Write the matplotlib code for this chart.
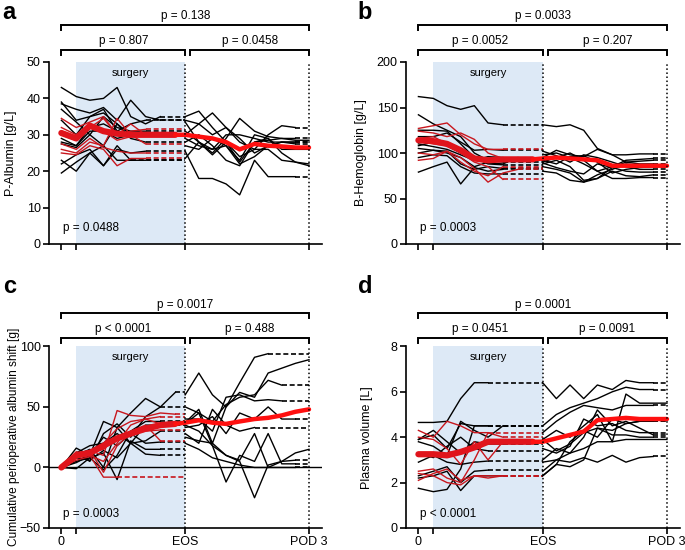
import matplotlib.pyplot as plt

plt.rcParams['font.family'] = ['Liberation Sans', 'DejaVu Sans']

# time axis: 0 = start, 1.2 = start of surgery, 10 = end of surgery (EOS), 20 = POD 3
intra_t = [0, 1.2, 2.3, 3.4, 4.5, 5.6, 6.8, 8.0, 9.2]
post_t = [10, 11.1, 12.2, 13.3, 14.4, 15.6, 16.7, 17.8, 18.9, 20]

# ---- panel a: P-Albumin [g/L]
a_intra_black = [
    [43, 40.5, 39.5, 40, 43, 35, 33, 35],
    [38.5, 37, 36, 37.5, 34, 39.5, 35, 34],
    [39, 34, 35, 37, 31, 33, 34],
    [37, 33.5, 30, 35, 32, 31, 31],
    [28, 27, 31, 31, 29, 30, 30],
    [27.5, 26.5, 30, 27, 33, 29, 28],
    [22, 24.5, 26, 21.5, 26, 25, 25.5],
    [19.5, 22.5, 25, 21.5, 27, 23, 23],
    [23, 20, 25, 27, 23, 23],
    [29, 27, 32, 33, 31, 30, 30],
    [34, 30, 35, 36, 33, 30],
]
a_intra_red = [
    [34.5, 32, 33.5, 35, 30, 31, 31.5],
    [30, 28.5, 32, 34.5, 30, 33, 30],
    [26, 25, 28, 27, 34.5, 30, 27.5],
    [25, 24.5, 27, 26, 21.5, 23.5, 23.5],
    [27.5, 26, 29, 26.5, 25.5, 25, 25],
    [32, 30, 33, 31, 28.5, 29.5, 30],
]
a_post = [
    [35, 36.5, 32, 28, 22.5, 28, 28.5, 29, 29],
    [34, 33, 36, 32, 28, 26, 30, 32.5, 32],
    [33.5, 28, 25, 29, 34.5, 31, 29.5, 29, 28.5, 28.5],
    [30, 33, 30, 32, 29, 25, 27, 28, 28],
    [29, 27, 26, 27, 23, 30, 29, 26, 26, 26],
    [27, 26, 29, 27, 22, 24, 27, 28, 27.5],
    [25.5, 18, 18, 16.5, 13.5, 23, 18.5, 18.5, 18.5],
    [31, 28, 24.5, 28, 24, 26, 26, 23, 22.5, 22],
    [28, 30, 27, 23, 21.5, 28, 29, 25, 22.5, 21.5],
    [23.5, 28, 26, 30, 30, 29, 28, 28, 28],
]
a_mean_intra = [30.5, 29, 32.5, 31, 30.3, 30, 30, 30, 30]
a_mean_post = [30, 29.5, 29, 28, 26, 27.5, 27, 26.8, 26.5, 26.5]

# ---- panel b: B-Hemoglobin [g/L]
b_intra_black = [
    [162, 160, 152, 148, 152, 133, 131],
    [142, 132, 125, 118, 100, 92, 90],
    [125, 125, 124, 110, 95, 88, 87],
    [118, 118, 122, 112, 103, 104, 103],
    [110, 107, 104, 98, 92, 96, 95],
    [105, 103, 100, 95, 85, 90, 92],
    [100, 103, 102, 88, 82, 85, 83],
    [95, 98, 97, 85, 78, 77, 77],
    [79, 85, 90, 66, 84, 80, 82],
    [108, 112, 108, 100, 94, 89, 88, 95],
]
b_intra_red = [
    [127, 130, 133, 120, 110, 104, 104],
    [124, 122, 118, 122, 115, 100, 94],
    [116, 118, 110, 100, 90, 85, 71],
    [100, 98, 102, 95, 83, 68, 78, 82],
    [92, 94, 102, 90, 80, 75, 85],
    [113, 110, 108, 104, 95, 93, 92],
]
b_post = [
    [131, 129, 131, 125, 105, 98, 98, 99, 99],
    [95, 103, 98, 96, 104, 98, 90, 88, 88],
    [90, 95, 100, 92, 80, 85, 92, 93, 94],
    [88, 92, 85, 70, 72, 84, 90, 91, 92],
    [85, 82, 78, 68, 76, 82, 88, 86, 86],
    [92, 88, 96, 97, 90, 78, 82, 84, 85],
    [80, 78, 70, 68, 72, 80, 75, 74, 76],
    [98, 100, 95, 88, 80, 72, 72, 73, 73],
    [102, 97, 90, 98, 95, 90, 85, 82, 82],
    [89, 84, 80, 77, 88, 84, 80, 79, 79],
]
b_mean_intra = [114, 113, 110, 103, 94, 92, 93, 93, 93]
b_mean_post = [94, 95, 94, 93, 92, 86, 86, 86, 86, 86]

# ---- panel c: cumulative perioperative albumin shift [g]
c_intra_black = [
    [0, 16, 10, 38, 33, 45, 57, 50, 62],
    [0, 12, 5, 28, 36, 25, 42, 50],
    [0, 5, 8, -2, 10, 30, 38, 38],
    [0, 10, 15, 0, 33, 20, 35, 35],
    [0, -1, 8, 12, -10, 22, 15, 15],
    [0, 8, 6, 14, 8, 20, 11, 10],
    [0, 12, 18, 20, 28, 20, 22, 30],
    [0, 4, 10, 25, 18, 28, 20, 21],
]
c_intra_red = [
    [0, 12, 14, 10, 47, 43, 42, 45, 44],
    [0, 8, 10, 5, 20, 35, 40, 42],
    [0, 11, 14, -4, 18, 28, 30, 31],
    [0, 13, 10, -8, -8],
    [0, 9, 12, 15, 25, 30, 35, 22],
    [0, 6, 9, 20, 32, 38, 40, 36],
]
c_post = [
    [60, 78, 60, 50, 70, 91, 94],
    [37, 48, 20, 50, 62, 58, 78, 82, 86, 89],
    [50, 45, 38, 52, 58, 60, 72, 68],
    [40, 40, 30, 58, 60, 55, 56, 55],
    [33, 35, 42, 28, 45, 40, 50, 40, 40],
    [28, 20, 48, 35, 30, 33],
    [36, 45, 18, -12, 10, 5, 28, 3, 3],
    [25, 22, 20, 10, 5, -25, 2, 5, 12, 15],
    [20, 15, 8, 5, 2, 0, 0, 5, 6],
    [35, 30, 18, 10, 6, 28, 0, 0, 0],
]
c_mean_intra = [0, 10, 12, 18, 24, 28, 32, 35, 36]
c_mean_post = [37, 39, 37, 36, 38, 40, 41, 43, 46, 48]

# ---- panel d: plasma volume [L]
d_intra_black = [
    [4.65, 4.65, 4.7, 5.7, 6.4, 6.4],
    [3.9, 4.1, 3.5, 4.6, 4.5, 4.5],
    [3.8, 3.6, 3.2, 4.7, 4.3, 4.0, 4.5],
    [3.9, 4.3, 3.8, 3.3, 3.8, 3.7, 3.7],
    [3.3, 3.1, 3.6, 4.0, 3.5, 3.4],
    [2.9, 3.2, 2.9, 2.8, 2.9, 2.95],
    [2.3, 2.5, 2.7, 2.0, 2.5, 2.55],
    [2.2, 2.3, 2.5, 1.65, 2.3, 2.3, 2.3],
    [1.75, 1.6, 1.7, 2.6, 4.5, 4.5],
]
d_intra_red = [
    [4.3, 4.0, 4.7, 4.5, 4.2, 4.2],
    [4.0, 3.9, 3.5, 2.8, 3.8, 3.0, 3.8],
    [2.5, 2.6, 2.2, 2.0, 3.0, 4.2, 4.0],
    [2.4, 2.3, 2.0, 1.9, 2.3, 2.3, 2.3],
    [2.1, 2.4, 2.6, 2.1, 2.3, 2.2, 2.3],
]
d_post = [
    [6.4, 5.7, 6.3, 5.7, 6.3, 6.1, 6.5, 6.4, 6.4],
    [4.5, 5.0, 5.3, 5.5, 5.7, 6.0, 6.2, 6.1, 6.1],
    [4.2, 4.7, 5.1, 5.4, 5.3, 5.2, 5.4, 5.4, 5.4],
    [3.9, 4.3, 4.0, 4.5, 5.0, 3.8, 5.9, 5.5, 5.5, 5.5],
    [3.5, 3.3, 3.6, 4.8, 4.5, 4.6, 4.3, 4.2, 4.2],
    [3.0, 3.5, 3.3, 4.0, 5.2, 4.5, 4.7, 4.4, 4.1],
    [2.3, 2.8, 3.8, 4.3, 4.0, 4.8, 4.6, 4.7, 4.7],
    [2.5, 3.0, 3.3, 3.5, 3.8, 3.8, 3.9, 3.9, 3.9, 3.9],
    [2.9, 3.0, 2.9, 3.1, 2.9, 3.2, 2.9, 3.1, 3.15],
    [2.3, 2.8, 2.7, 3.0, 4.4, 4.3, 4.6, 4.7, 4.7],
    [3.9, 3.4, 3.7, 4.2, 4.4, 4.1, 4.1, 4.0, 4.0],
]
d_mean_intra = [3.25, 3.25, 3.2, 3.35, 3.55, 3.8, 3.8, 3.8, 3.8]
d_mean_post = [3.8, 3.95, 4.1, 4.25, 4.75, 4.8, 4.85, 4.8, 4.8, 4.8]

panels = [
    dict(letter='a', ylabel='P-Albumin [g/L]', ylim=(0, 50), yticks=[0, 10, 20, 30, 40, 50],
         black=a_intra_black, red=a_intra_red, post=a_post,
         mean_i=a_mean_intra, mean_p=a_mean_post,
         p=('p = 0.138', 'p = 0.807', 'p = 0.0458', 'p = 0.0488')),
    dict(letter='b', ylabel='B-Hemoglobin [g/L]', ylim=(0, 200), yticks=[0, 50, 100, 150, 200],
         black=b_intra_black, red=b_intra_red, post=b_post,
         mean_i=b_mean_intra, mean_p=b_mean_post,
         p=('p = 0.0033', 'p = 0.0052', 'p = 0.207', 'p = 0.0003')),
    dict(letter='c', ylabel='Cumulative perioperative albumin shift [g]', ylim=(-50, 100),
         yticks=[-50, 0, 50, 100],
         black=c_intra_black, red=c_intra_red, post=c_post,
         mean_i=c_mean_intra, mean_p=c_mean_post,
         p=('p = 0.0017', 'p < 0.0001', 'p = 0.488', 'p = 0.0003')),
    dict(letter='d', ylabel='Plasma volume [L]', ylim=(0, 8), yticks=[0, 2, 4, 6, 8],
         black=d_intra_black, red=d_intra_red, post=d_post,
         mean_i=d_mean_intra, mean_p=d_mean_post,
         p=('p = 0.0001', 'p = 0.0451', 'p = 0.0091', 'p < 0.0001')),
]

# axes rectangles in pixels (left, bottom, width, height) of a 685x550 figure
rects = [(49, 306, 273, 182), (406, 306, 274, 182), (49, 22, 273, 181.6), (406, 22, 274, 181.6)]
label_x = [-0.117, -0.141, -0.108, -0.119]
label_size = [9, 9, 8.6, 9]
# bracket heights (axes fraction): lower bracket, lower text, upper bracket, upper text
brk = [(1.066, 1.115, 1.203, 1.253), (1.066, 1.115, 1.203, 1.253),
       (1.046, 1.096, 1.184, 1.23), (1.046, 1.096, 1.184, 1.23)]

fig = plt.figure(figsize=(6.85, 5.5), dpi=100)
RED = '#c8161d'
DASH = (0, (3, 1.6))


def bracket(ax, x0, x1, y, ytxt, txt):
    tr = ax.get_xaxis_transform()
    ax.plot([x0, x0, x1, x1], [y - 0.025, y, y, y - 0.025], color='black', lw=1.4,
            transform=tr, clip_on=False, solid_joinstyle='miter')
    ax.text((x0 + x1) / 2, ytxt, txt, transform=tr, ha='center', va='center', fontsize=8.5)


for i, pnl in enumerate(panels):
    l, b, w, h = rects[i]
    ax = fig.add_axes([l / 685, b / 550, w / 685, h / 550])
    ax.set_xlim(-1.0, 21.05)
    ax.set_ylim(*pnl['ylim'])
    ax.axvspan(1.2, 10, color='#dde9f6', lw=0, zorder=0)
    ax.axvline(10, color='black', ls=':', lw=1.1, zorder=5)
    ax.axvline(20, color='black', ls=':', lw=1.1, zorder=5)
    if pnl['ylim'][0] < 0:
        ax.axhline(0, color='black', lw=1.0, zorder=1)

    for vals, col in [(v, 'black') for v in pnl['black']] + [(v, RED) for v in pnl['red']]:
        xs = intra_t[:len(vals)]
        ax.plot(xs, vals, color=col, lw=1.0, zorder=2)
        if xs[-1] < 10:
            ax.plot([xs[-1], 10], [vals[-1], vals[-1]], color=col, lw=1.2, ls=DASH, zorder=2)
    for vals in pnl['post']:
        xs = post_t[:len(vals)]
        ax.plot(xs, vals, color='black', lw=1.0, zorder=2)
        if xs[-1] < 20:
            ax.plot([xs[-1], 20], [vals[-1], vals[-1]], color='black', lw=1.2, ls=DASH, zorder=2)

    ax.plot(intra_t, pnl['mean_i'], color='#e0141c', lw=4.5, zorder=4, solid_capstyle='round')
    ax.plot([intra_t[-1]] + post_t, [pnl['mean_i'][-1]] + pnl['mean_p'], color='#ff1010',
            lw=3.2, zorder=4, solid_capstyle='round')

    ax.text(5.6, 0.94, 'surgery', transform=ax.get_xaxis_transform(), ha='center', va='center',
            fontsize=8)
    ax.text(0.1, 0.09 if i < 2 else 0.075, pnl['p'][3], transform=ax.get_xaxis_transform(),
            ha='left', va='center', fontsize=8.5)

    y1, t1, y2, t2 = brk[i]
    bracket(ax, 0, 20, y2, t2, pnl['p'][0])
    bracket(ax, 0, 10, y1, t1, pnl['p'][1])
    bracket(ax, 10.4, 20, y1, t1, pnl['p'][2])

    ax.spines['top'].set_visible(False)
    ax.spines['right'].set_visible(False)
    ax.spines['left'].set_linewidth(1.2)
    ax.spines['bottom'].set_linewidth(1.2)
    ax.set_yticks(pnl['yticks'])
    ax.set_xticks([0, 1.2, 10, 20])
    if i < 2:
        ax.set_xticklabels(['', '', '', ''])
    else:
        ax.set_xticklabels(['0', '', 'EOS', 'POD 3'])
    ax.tick_params(direction='out', length=4, width=1.2, labelsize=9, pad=2)
    ax.set_ylabel(pnl['ylabel'], fontsize=label_size[i])
    ax.yaxis.set_label_coords(label_x[i], 0.5)

    fx = 0.004 if i % 2 == 0 else 0.522
    fy = 0.998 if i < 2 else 0.5
    fig.text(fx, fy, pnl['letter'], fontsize=17, fontweight='bold', ha='left', va='top')

fig.savefig('out.png', dpi=100)
